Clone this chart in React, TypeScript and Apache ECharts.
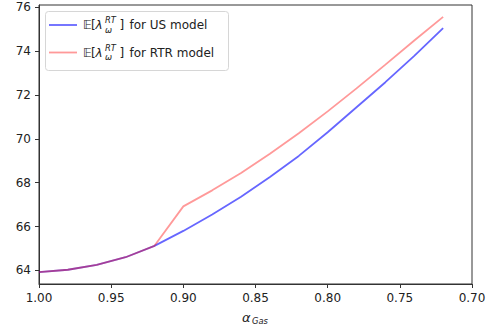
import React, { useEffect, useRef } from "react";
import * as echarts from "echarts";

const alphaValues = [1.0, 0.98, 0.96, 0.94, 0.92, 0.9, 0.88, 0.86, 0.84, 0.82, 0.8, 0.78, 0.76, 0.74, 0.72];
const usModel = [63.92, 64.03, 64.25, 64.6, 65.12, 65.8, 66.55, 67.36, 68.26, 69.22, 70.3, 71.44, 72.58, 73.78, 75.05];
const rtrModel = [63.92, 64.03, 64.25, 64.6, 65.12, 66.92, 67.65, 68.44, 69.32, 70.25, 71.25, 72.3, 73.38, 74.48, 75.56];
const xTicks = [1.0, 0.95, 0.9, 0.85, 0.8, 0.75, 0.7];
const yTicks = [64, 66, 68, 70, 72, 74, 76];
const legendLabels = ["for US model", "for RTR model"];

const FONT = "DejaVu Sans";
const TXT = "#222";
const AX = "#333";
const BLUE = "rgba(0,0,255,0.6)";
const RED = "rgba(255,0,0,0.4)";

function legendEntry(y: number, color: string, label: string) {
  const ts = (extra: any) => ({ fontFamily: FONT, fill: TXT, verticalAlign: "middle", ...extra });
  return [
    { type: "line", shape: { x1: 49, y1: y, x2: 77, y2: y }, style: { stroke: color, lineWidth: 1.8 } },
    { type: "text", x: 83, y: y, style: ts({ text: "𝔼", fontSize: 12 }) },
    { type: "text", x: 91, y: y, style: ts({ text: "[", fontSize: 12 }) },
    { type: "text", x: 95.5, y: y, style: ts({ text: "λ", fontSize: 12, fontStyle: "italic" }) },
    { type: "text", x: 105, y: y - 5, style: ts({ text: "RT", fontSize: 8.4, fontStyle: "italic" }) },
    { type: "text", x: 105, y: y + 4.5, style: ts({ text: "ω", fontSize: 8.4, fontStyle: "italic" }) },
    { type: "text", x: 119.5, y: y, style: ts({ text: "]", fontSize: 12 }) },
    { type: "text", x: 129.5, y: y, style: ts({ text: label, fontSize: 12 }) },
  ];
}

export default function App() {
  const ref = useRef<HTMLDivElement>(null);
  useEffect(() => {
    document.body.style.margin = "0";
    const chart = echarts.init(ref.current!, null, { renderer: "svg" });
    chart.setOption({
      animation: false,
      backgroundColor: "#fff",
      grid: { left: 39, right: 17, top: 5, bottom: 44, show: true, borderColor: AX, borderWidth: 1 },
      xAxis: {
        type: "value",
        inverse: true,
        min: 0.7,
        max: 1.0,
        axisLine: { show: true, lineStyle: { color: AX, width: 1 } },
        axisTick: { show: true, length: 4, lineStyle: { color: AX }, customValues: xTicks },
        axisLabel: {
          customValues: xTicks,
          formatter: (v: number) => v.toFixed(2),
          margin: 8,
          fontSize: 12,
          fontFamily: FONT,
          color: TXT,
        },
        splitLine: { show: false },
      },
      yAxis: {
        type: "value",
        min: 63.38,
        max: 76.1,
        axisLine: { show: true, lineStyle: { color: AX, width: 1 } },
        axisTick: { show: true, length: 4, lineStyle: { color: AX }, customValues: yTicks },
        axisLabel: {
          customValues: yTicks,
          formatter: (v: number) => String(Math.round(v)),
          margin: 8,
          fontSize: 12,
          fontFamily: FONT,
          color: TXT,
        },
        splitLine: { show: false },
      },
      legend: { show: false },
      series: [
        {
          name: "US model",
          type: "line",
          showSymbol: false,
          data: alphaValues.map((a, i) => [a, usModel[i]]),
          lineStyle: { color: BLUE, width: 1.8 },
          itemStyle: { color: BLUE },
        },
        {
          name: "RTR model",
          type: "line",
          showSymbol: false,
          data: alphaValues.map((a, i) => [a, rtrModel[i]]),
          lineStyle: { color: RED, width: 1.8 },
          itemStyle: { color: RED },
        },
      ],
      graphic: [
        {
          type: "rect",
          shape: { x: 45.5, y: 11.5, width: 183, height: 59, r: 3 },
          style: { fill: "rgba(255,255,255,0.8)", stroke: "#d6d6d6", lineWidth: 1 },
          z: 10,
        },
        ...legendEntry(25, BLUE, legendLabels[0]).map((e) => ({ ...e, z: 11 })),
        ...legendEntry(52.5, RED, legendLabels[1]).map((e) => ({ ...e, z: 11 })),
        {
          type: "text",
          x: 242,
          y: 317,
          style: { text: "α", fontSize: 13, fontStyle: "italic", fontFamily: FONT, fill: TXT, verticalAlign: "middle" },
        },
        {
          type: "text",
          x: 252,
          y: 321,
          style: { text: "Gas", fontSize: 8.4, fontStyle: "italic", fontFamily: FONT, fill: TXT, verticalAlign: "middle" },
        },
      ],
    });
    return () => chart.dispose();
  }, []);
  return <div ref={ref} style={{ width: 489, height: 328 }} />;
}
